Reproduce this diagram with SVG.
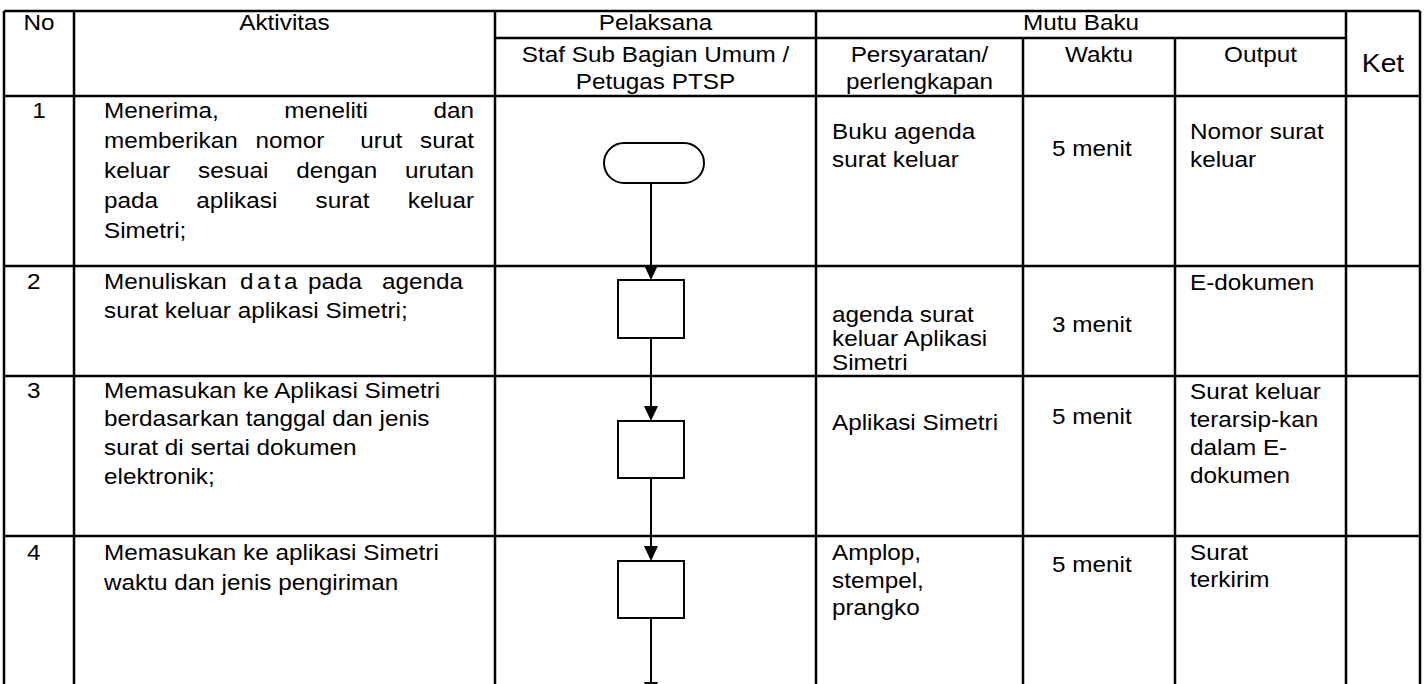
<svg xmlns="http://www.w3.org/2000/svg" width="1426" height="684" viewBox="0 0 1426 684">
<style>
.t{font-family:"Liberation Sans",Arial,sans-serif;font-size:21.5px;fill:#000}
.c{text-anchor:middle}
.e{text-anchor:end}
.g{stroke:#000;stroke-width:2.5;fill:none}
.n{stroke:#000;stroke-width:2;fill:#fff}
.k{stroke:#000;stroke-width:2;fill:none}
</style>
<defs>
<marker id="ah" markerUnits="userSpaceOnUse" markerWidth="15" markerHeight="14" viewBox="0 0 15 14" refX="10" refY="7" orient="auto">
<path d="M0,0 L15,7 L0,14 z" fill="#000"/>
</marker>
</defs>
<rect width="1426" height="684" fill="#fff"/>
<g id="grid" class="g">
<path d="M4,11 H1420 M495,38 H1346 M4,96 H1420 M4,266 H1420 M4,376 H1420 M4,536 H1420"/>
<path d="M4,11 V684 M74,11 V684 M495,11 V684 M816,11 V684 M1023,38 V684 M1175,38 V684 M1346,11 V684 M1420,11 V684"/>
</g>
<g id="header" class="t" transform="scale(1.13,1)">
<text x="34.51" y="30" class="c">No</text>
<text x="251.77" y="30" class="c">Aktivitas</text>
<text x="580.09" y="30" class="c">Pelaksana</text>
<text x="956.64" y="30" class="c">Mutu Baku</text>
<text x="580.09" y="62" class="c">Staf Sub Bagian Umum /</text>
<text x="580.09" y="89" class="c">Petugas PTSP</text>
<text x="813.72" y="62" class="c">Persyaratan/</text>
<text x="813.72" y="89" class="c">perlengkapan</text>
<text x="972.57" y="62" class="c">Waktu</text>
<text x="1115.49" y="62" class="c">Output</text>
<text x="1223.89" y="72" class="c" style="font-size:25px">Ket</text>
</g>
<g id="row1" class="t" transform="scale(1.13,1)">
<text x="34.51" y="118" class="c">1</text>
<text y="118"><tspan x="92.04">Menerima,</tspan><tspan x="251.59">meneliti</tspan><tspan x="419.47" class="e">dan</tspan></text>
<text y="148"><tspan x="92.04">memberikan</tspan><tspan x="226.19">nomor</tspan><tspan x="318.85">urut</tspan><tspan x="419.47" class="e">surat</tspan></text>
<text y="178"><tspan x="92.04">keluar</tspan><tspan x="175.31">sesuai</tspan><tspan x="262.12">dengan</tspan><tspan x="419.47" class="e">urutan</tspan></text>
<text y="208"><tspan x="92.04">pada</tspan><tspan x="173.72">aplikasi</tspan><tspan x="279.29">surat</tspan><tspan x="419.47" class="e">keluar</tspan></text>
<text x="92.04" y="238">Simetri;</text>
<text x="736.28" y="139">Buku agenda</text>
<text x="736.28" y="167">surat keluar</text>
<text x="930.97" y="156">5 menit</text>
<text x="1053.1" y="139">Nomor surat</text>
<text x="1053.1" y="167">keluar</text>
</g>
<g id="row2" class="t" transform="scale(1.13,1)">
<text x="23.89" y="289">2</text>
<text y="289"><tspan x="92.04">Menuliskan</tspan><tspan x="212.39" style="letter-spacing:3px">data</tspan><tspan x="272.57">pada</tspan><tspan x="338.05">agenda</tspan></text>
<text x="92.04" y="318">surat keluar aplikasi Simetri;</text>
<text x="736.28" y="322">agenda surat</text>
<text x="736.28" y="346">keluar Aplikasi</text>
<text x="736.28" y="370">Simetri</text>
<text x="930.97" y="332">3 menit</text>
<text x="1053.1" y="290">E-dokumen</text>
</g>
<g id="row3" class="t" transform="scale(1.13,1)">
<text x="23.89" y="398">3</text>
<text x="92.04" y="398">Memasukan ke Aplikasi Simetri</text>
<text x="92.04" y="426">berdasarkan tanggal dan jenis</text>
<text x="92.04" y="455">surat di sertai dokumen</text>
<text x="92.04" y="484">elektronik;</text>
<text x="736.28" y="430">Aplikasi Simetri</text>
<text x="930.97" y="424">5 menit</text>
<text x="1053.1" y="399">Surat keluar</text>
<text x="1053.1" y="427">terarsip-kan</text>
<text x="1053.1" y="455">dalam E-</text>
<text x="1053.1" y="483">dokumen</text>
</g>
<g id="row4" class="t" transform="scale(1.13,1)">
<text x="23.89" y="560">4</text>
<text x="92.04" y="560">Memasukan ke aplikasi Simetri</text>
<text x="92.04" y="590">waktu dan jenis pengiriman</text>
<text x="736.28" y="560">Amplop,</text>
<text x="736.28" y="588">stempel,</text>
<text x="736.28" y="615">prangko</text>
<text x="930.97" y="572">5 menit</text>
<text x="1053.1" y="560">Surat</text>
<text x="1053.1" y="587">terkirim</text>
</g>
<g id="start"><rect class="n" x="604" y="143" width="100" height="40" rx="20" ry="20"/></g>
<g id="step2"><rect class="n" x="618" y="280" width="66" height="58"/></g>
<g id="step3"><rect class="n" x="618" y="421" width="66" height="57"/></g>
<g id="step4"><rect class="n" x="618" y="561" width="66" height="57"/></g>
<g id="connectors" class="k">
<path d="M651,183 V275" marker-end="url(#ah)"/>
<path d="M651,338 V416" marker-end="url(#ah)"/>
<path d="M651,478 V556" marker-end="url(#ah)"/>
<path d="M651,618 V692" marker-end="url(#ah)"/>
</g>
</svg>
